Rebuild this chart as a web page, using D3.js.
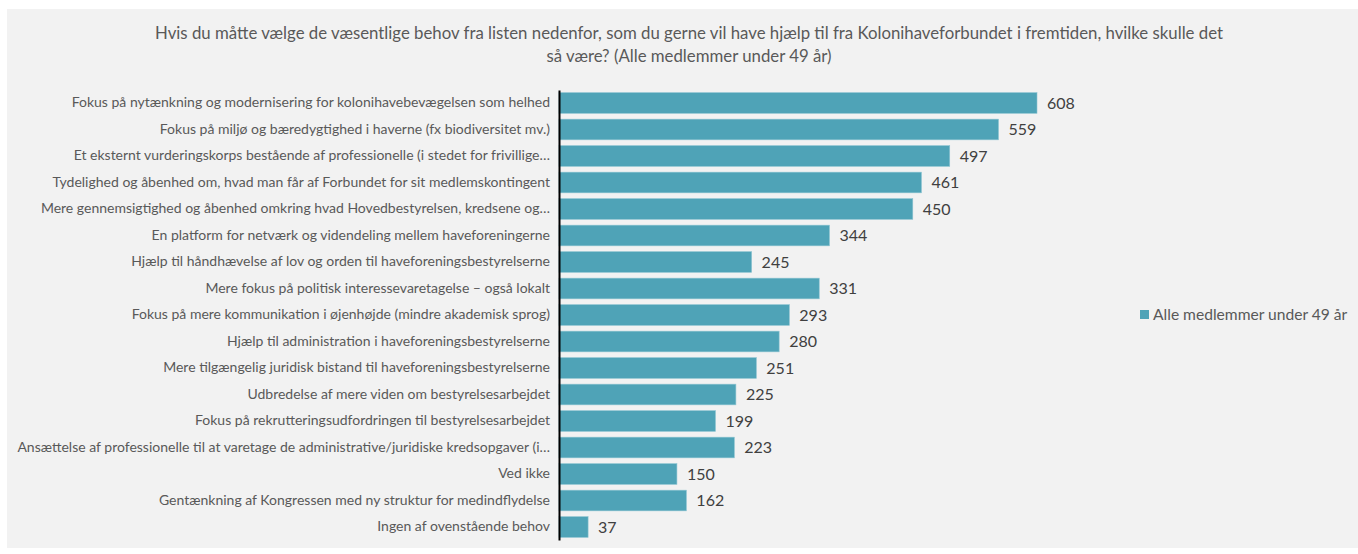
<!DOCTYPE html>
<html><head><meta charset="utf-8">
<script src="https://cdn.jsdelivr.net/npm/d3@7"></script>
<style>body{margin:0;background:#fff;}svg{display:block;}</style>
</head><body>
<svg id="c" width="1358" height="554"></svg>
<script>
const categories = [
"Fokus på nytænkning og modernisering for kolonihavebevægelsen som helhed",
"Fokus på miljø og bæredygtighed i haverne (fx biodiversitet mv.)",
"Et eksternt vurderingskorps bestående af professionelle (i stedet for frivillige…",
"Tydelighed og åbenhed om, hvad man får af Forbundet for sit medlemskontingent",
"Mere gennemsigtighed og åbenhed omkring hvad Hovedbestyrelsen, kredsene og…",
"En platform for netværk og videndeling mellem haveforeningerne",
"Hjælp til håndhævelse af lov og orden til haveforeningsbestyrelserne",
"Mere fokus på politisk interessevaretagelse – også lokalt",
"Fokus på mere kommunikation i øjenhøjde (mindre akademisk sprog)",
"Hjælp til administration i haveforeningsbestyrelserne",
"Mere tilgængelig juridisk bistand til haveforeningsbestyrelserne",
"Udbredelse af mere viden om bestyrelsesarbejdet",
"Fokus på rekrutteringsudfordringen til bestyrelsesarbejdet",
"Ansættelse af professionelle til at varetage de administrative/juridiske kredsopgaver (i…",
"Ved ikke",
"Gentænkning af Kongressen med ny struktur for medindflydelse",
"Ingen af ovenstående behov"
];
const values = [608,559,497,461,450,344,245,331,293,280,251,225,199,223,150,162,37];
const seriesName = "Alle medlemmer under 49 år";
const titleLines = ["Hvis du måtte vælge de væsentlige behov fra listen nedenfor, som du gerne vil have hjælp til fra Kolonihaveforbundet i fremtiden, hvilke skulle det","så være? (Alle medlemmer under 49 år)"];

const svg = d3.select("#c");
const font = "Lato, 'Open Sans', sans-serif";
svg.append("rect").attr("x",7).attr("y",9).attr("width",1351).attr("height",539).attr("fill","#f2f2f2");

svg.append("g").selectAll("text").data(titleLines).join("text")
  .attr("x",689).attr("y",(d,i)=>39+i*23).attr("text-anchor","middle")
  .attr("font-family",font).attr("font-size",16.8).attr("fill","#595959").text(d=>d);

const x = d3.scaleLinear().domain([0,608]).range([559,1037]);
const y = d3.scaleBand().domain(categories).range([90,540]).paddingInner(0.22).paddingOuter(0.1);

svg.append("g").selectAll("rect").data(values).join("rect")
  .attr("x",x(0)).attr("y",(d,i)=>y(categories[i]))
  .attr("width",d=>x(d)-x(0)).attr("height",y.bandwidth())
  .attr("fill","#4fa3b7").attr("stroke","#8cc4d1").attr("stroke-width",0.6);

svg.append("g").selectAll("text").data(values).join("text")
  .attr("x",d=>x(d)+10).attr("y",(d,i)=>y(categories[i])+y.bandwidth()/2)
  .attr("dy","0.35em").attr("font-family",font).attr("font-size",16).attr("fill","#404040")
  .text(d=>d);

const yAxis = svg.append("g").attr("transform",`translate(${x(0)},0)`)
  .call(d3.axisLeft(y).tickSize(0).tickPadding(9));
yAxis.select(".domain").attr("stroke","#000").attr("stroke-width",2);
yAxis.selectAll("text").attr("font-family",font).attr("font-size",14).attr("fill","#595959");

const lg = svg.append("g");
lg.append("rect").attr("x",1140).attr("y",310).attr("width",9).attr("height",9).attr("fill","#4fa3b7");
lg.append("text").attr("x",1153).attr("y",315).attr("dy","0.35em").attr("font-family",font)
  .attr("font-size",15.6).attr("fill","#595959").text(seriesName);
</script>
</body></html>
